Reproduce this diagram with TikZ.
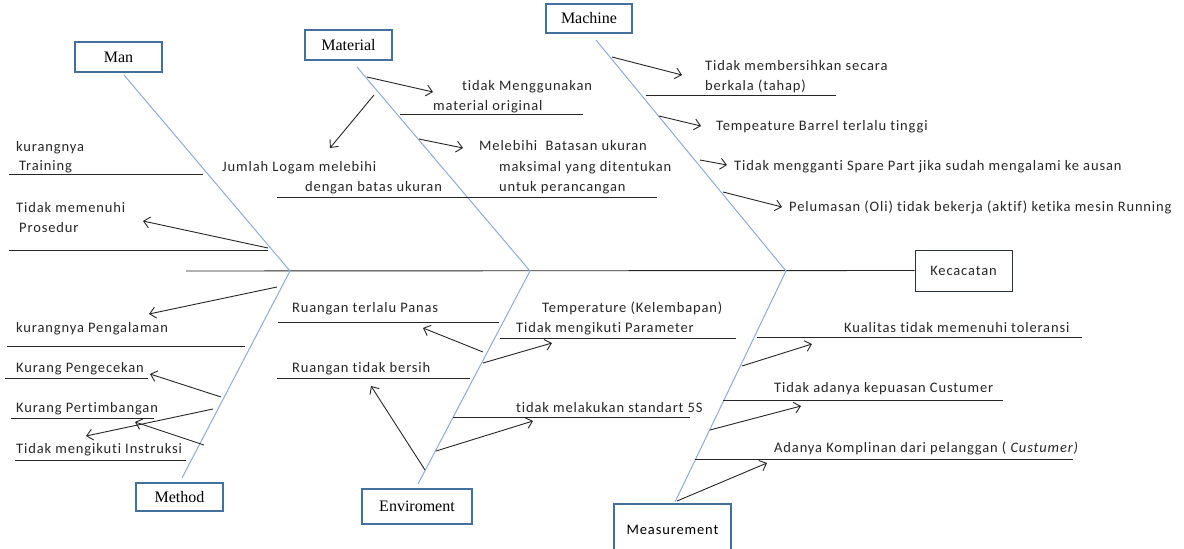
\documentclass[tikz,border=0pt]{standalone}
\usepackage{fontspec}
\setmainfont{Carlito}[LetterSpace=6,Ligatures=NoCommon]
\newfontfamily\boxfont{Liberation Serif}
\usetikzlibrary{arrows.meta}
\definecolor{bonec}{HTML}{8EAADB}
\definecolor{boxc}{HTML}{41719C}
\definecolor{linec}{HTML}{262626}
\definecolor{txtc}{HTML}{262626}
\begin{document}
\begin{tikzpicture}[x=1pt,y=-1pt,
  catbox/.style={draw=boxc, line width=1.6pt, inner sep=0pt, text=black,
    font=\boxfont\fontsize{16}{18}\selectfont},
  effbox/.style={draw=linec!80!boxc, line width=0.9pt, inner sep=0pt, text=txtc,
    font=\fontsize{14.5}{17}\selectfont},
  bone/.style={draw=bonec, line width=1pt},
  ul/.style={draw=linec, line width=0.9pt},
  arr/.style={draw=linec, line width=0.9pt, -{Straight Barb[length=6pt,width=11pt]}},
  lbl/.style={inner sep=0pt, anchor=base west, text=txtc, font=\fontsize{14.5}{17}\selectfont}]
\useasboundingbox (0,0) rectangle (1184,549);

% category boxes
\node[catbox, minimum width=87pt, minimum height=30pt] (man) at (118.5,57) {Man};
\node[catbox, minimum width=87pt, minimum height=30pt] (mat) at (348.5,45) {Material};
\node[catbox, minimum width=86pt, minimum height=29pt] (mac) at (589,18.5) {Machine};
\node[catbox, minimum width=87pt, minimum height=28pt] (met) at (179.5,497) {Method};
\node[catbox, minimum width=110pt, minimum height=35pt] (env) at (417,506.5) {Enviroment};
\node[catbox, font=\fontsize{14.5}{17}\selectfont, minimum width=117pt, minimum height=52pt] (mea) at (672.5,530) {Measurement};
\node[effbox, minimum width=97pt, minimum height=41pt] (kec) at (963.5,270.5) {Kecacatan};

% spine and bones
\coordinate (spL) at (186,271);
\coordinate (j1) at (290,271);
\coordinate (j2) at (530,271);
\coordinate (j3) at (786,271);
\coordinate (manT) at (124,75);
\coordinate (matT) at (357,67);
\coordinate (macT) at (596,40);
\coordinate (metB) at (182,478);
\coordinate (envB) at (418,484);
\coordinate (meaB) at (675,502);
\draw[ul] (spL) -- (kec.west);
\draw[bone] (manT) -- (j1) -- (metB);
\draw[bone] (matT) -- (j2) -- (envB);
\draw[bone] (macT) -- (j3) -- (meaB);

% ---------- Man ----------
\node[lbl] (t1) at (16,151) {kurangnya};
\node[lbl] (t2) at (19,170.5) {Training};
\node[lbl] (t3) at (16,212) {Tidak memenuhi};
\node[lbl] (t4) at (19,232) {Prosedur};
\coordinate (u1a) at (9,174); \coordinate (u1b) at (203,174);
\coordinate (u2a) at (9,250); \coordinate (u2b) at (268,250);
\draw[ul] (u1a) -- (u1b);
\draw[ul] (u2a) -- (u2b);
\coordinate (a1s) at (268,248); \coordinate (a1e) at (143,221);
\draw[arr] (a1s) -- (a1e);

% ---------- Material ----------
\node[lbl] (t5) at (462,90) {tidak Menggunakan};
\node[lbl] (t6) at (433,110) {material original};
\node[lbl] (t7) at (222,171) {Jumlah Logam melebihi};
\node[lbl] (t8) at (305,191) {dengan batas ukuran};
\node[lbl] (t9) at (479,150) {Melebihi\ \ Batasan ukuran};
\node[lbl] (t10) at (499,171) {maksimal yang ditentukan};
\node[lbl] (t11) at (499,191) {untuk perancangan};
\coordinate (u3a) at (400,114); \coordinate (u3b) at (583,114);
\coordinate (u4a) at (277,197); \coordinate (u4b) at (657,197);
\draw[ul] (u3a) -- (u3b);
\draw[ul] (u4a) -- (u4b);
\coordinate (a2s) at (367,77); \coordinate (a2e) at (433,92);
\coordinate (a3s) at (374,95); \coordinate (a3e) at (330,148);
\coordinate (a4s) at (419,139); \coordinate (a4e) at (463,148);
\draw[arr] (a2s) -- (a2e);
\draw[arr] (a3s) -- (a3e);
\draw[arr] (a4s) -- (a4e);

% ---------- Machine ----------
\node[lbl] (t12) at (705,70) {Tidak membersihkan secara};
\node[lbl] (t13) at (705,90) {berkala (tahap)};
\node[lbl] (t14) at (716,130) {Tempeature Barrel terlalu tinggi};
\node[lbl] (t15) at (734,170) {Tidak mengganti Spare Part jika sudah mengalami ke ausan};
\node[lbl] (t16) at (789,211) {Pelumasan (Oli) tidak bekerja (aktif) ketika mesin Running};
\coordinate (u5a) at (646,95); \coordinate (u5b) at (836,95);
\draw[ul] (u5a) -- (u5b);
\coordinate (a5s) at (612,57); \coordinate (a5e) at (682,75);
\coordinate (a6s) at (659,116); \coordinate (a6e) at (701,126);
\coordinate (a7s) at (700,160); \coordinate (a7e) at (727,165);
\coordinate (a8s) at (723,192); \coordinate (a8e) at (782,207);
\draw[arr] (a5s) -- (a5e);
\draw[arr] (a6s) -- (a6e);
\draw[arr] (a7s) -- (a7e);
\draw[arr] (a8s) -- (a8e);

% ---------- Method ----------
\node[lbl] (t17) at (16,332) {kurangnya Pengalaman};
\node[lbl] (t18) at (16,372) {Kurang Pengecekan};
\node[lbl] (t19) at (16,412) {Kurang Pertimbangan};
\node[lbl] (t20) at (16,453) {Tidak mengikuti Instruksi};
\coordinate (u6a) at (7,346); \coordinate (u6b) at (245,346);
\coordinate (u7a) at (5,378); \coordinate (u7b) at (148,378);
\coordinate (u8a) at (11,418); \coordinate (u8b) at (154,418);
\coordinate (u9a) at (15,460); \coordinate (u9b) at (186,460);
\draw[ul] (u6a) -- (u6b);
\draw[ul] (u7a) -- (u7b);
\draw[ul] (u8a) -- (u8b);
\draw[ul] (u9a) -- (u9b);
\coordinate (a9s) at (277,287); \coordinate (a9e) at (149,314);
\coordinate (a10s) at (221,397); \coordinate (a10e) at (150,374);
\coordinate (a11s) at (213,409); \coordinate (a11e) at (86,436);
\coordinate (a12s) at (204,445); \coordinate (a12e) at (135,422);
\draw[arr] (a9s) -- (a9e);
\draw[arr] (a10s) -- (a10e);
\draw[arr] (a11s) -- (a11e);
\draw[arr] (a12s) -- (a12e);

% ---------- Enviroment ----------
\node[lbl] (t21) at (292,312) {Ruangan terlalu Panas};
\node[lbl] (t22) at (542,312) {Temperature (Kelembapan)};
\node[lbl] (t23) at (516,332) {Tidak mengikuti Parameter};
\node[lbl] (t24) at (292,372) {Ruangan tidak bersih};
\node[lbl] (t25) at (516,412) {tidak melakukan standart 5S};
\coordinate (u10a) at (278,322); \coordinate (u10b) at (499,322);
\coordinate (u11a) at (500,338); \coordinate (u11b) at (736,338);
\coordinate (u12a) at (277,378); \coordinate (u12b) at (470,378);
\coordinate (u13a) at (453,417); \coordinate (u13b) at (690,417);
\draw[ul] (u10a) -- (u10b);
\draw[ul] (u11a) -- (u11b);
\draw[ul] (u12a) -- (u12b);
\draw[ul] (u13a) -- (u13b);
\coordinate (a13s) at (483,352); \coordinate (a13e) at (423,328);
\coordinate (a14s) at (483,363); \coordinate (a14e) at (552,343);
\coordinate (a15s) at (425,470); \coordinate (a15e) at (371,386);
\coordinate (a16s) at (436,451); \coordinate (a16e) at (533,421);
\draw[arr] (a13s) -- (a13e);
\draw[arr] (a14s) -- (a14e);
\draw[arr] (a15s) -- (a15e);
\draw[arr] (a16s) -- (a16e);

% ---------- Measurement ----------
\node[lbl] (t26) at (844,332) {Kualitas tidak memenuhi toleransi};
\node[lbl] (t27) at (774,392) {Tidak adanya kepuasan Custumer};
\node[lbl] (t28) at (774,452) {Adanya Komplinan dari pelanggan ( \textit{Custumer)}};
\coordinate (u14a) at (757,337); \coordinate (u14b) at (1082,337);
\coordinate (u15a) at (723,400); \coordinate (u15b) at (1003,400);
\coordinate (u16a) at (695,459); \coordinate (u16b) at (1073,459);
\draw[ul] (u14a) -- (u14b);
\draw[ul] (u15a) -- (u15b);
\draw[ul] (u16a) -- (u16b);
\coordinate (a17s) at (742,366); \coordinate (a17e) at (812,344);
\coordinate (a18s) at (710,430); \coordinate (a18e) at (801,406);
\coordinate (a19s) at (677,501); \coordinate (a19e) at (767,463);
\draw[arr] (a17s) -- (a17e);
\draw[arr] (a18s) -- (a18e);
\draw[arr] (a19s) -- (a19e);
\end{tikzpicture}
\end{document}
